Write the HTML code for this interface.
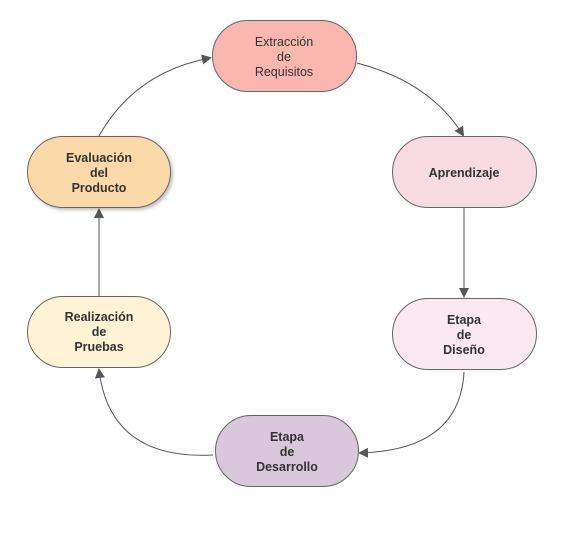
<!DOCTYPE html>
<html><head><meta charset="utf-8"><style>
html,body{margin:0;padding:0;background:#fff;width:588px;height:548px;overflow:hidden}
svg text{font-family:"Liberation Sans",sans-serif;font-size:12.5px;fill:#333;text-anchor:middle}
.b{font-weight:bold}
</style></head><body>
<svg width="588" height="548" viewBox="0 0 588 548">
<defs>
<marker id="a" markerWidth="10" markerHeight="10" refX="8" refY="5" orient="auto" markerUnits="userSpaceOnUse">
<path d="M0,0 L10,5 L0,10 Z" fill="#555"/></marker>
<filter id="s" x="-10%" y="-10%" width="130%" height="130%"><feDropShadow dx="2" dy="2" stdDeviation="1.5" flood-color="#000" flood-opacity="0.25"/></filter>
</defs>
<g fill="none" stroke="#555" stroke-width="1">
<path d="M99,136 Q135,72 210,58" marker-end="url(#a)"/>
<path d="M357,63 Q430,82 463,135" marker-end="url(#a)"/>
<path d="M464,208 L464,296" marker-end="url(#a)"/>
<path d="M464,372 Q460,450 360,453" marker-end="url(#a)"/>
<path d="M213,455 Q110,460 99,370" marker-end="url(#a)"/>
<path d="M99,296 L99,210" marker-end="url(#a)"/>
</g>
<g stroke="#666" stroke-width="1">
<rect x="212.5" y="20.5" width="144" height="71" rx="35.5" fill="#f9b7b0"/>
<rect x="392.5" y="136.5" width="144" height="71" rx="35.5" fill="#f7dbe3"/>
<rect x="392.5" y="298.5" width="144" height="71" rx="35.5" fill="#fbe9f1"/>
<rect x="215.5" y="415.5" width="143" height="71" rx="35.5" fill="#d9c8db"/>
<rect x="27.5" y="296.5" width="143" height="71" rx="35.5" fill="#fef3d5"/>
<rect x="27.5" y="136.5" width="143" height="71" rx="35.5" fill="#fcd9a8" filter="url(#s)"/>
</g>
<text x="284" y="46">Extracción</text><text x="284" y="61">de</text><text x="284" y="76">Requisitos</text>
<text class="b" x="464" y="177">Aprendizaje</text>
<text class="b" x="464" y="324">Etapa</text><text class="b" x="464" y="339">de</text><text class="b" x="464" y="354">Diseño</text>
<text class="b" x="287" y="441">Etapa</text><text class="b" x="287" y="456">de</text><text class="b" x="287" y="471">Desarrollo</text>
<text class="b" x="99" y="321">Realización</text><text class="b" x="99" y="336">de</text><text class="b" x="99" y="351">Pruebas</text>
<text class="b" x="99" y="162">Evaluación</text><text class="b" x="99" y="177">del</text><text class="b" x="99" y="192">Producto</text>
</svg>
</body></html>
